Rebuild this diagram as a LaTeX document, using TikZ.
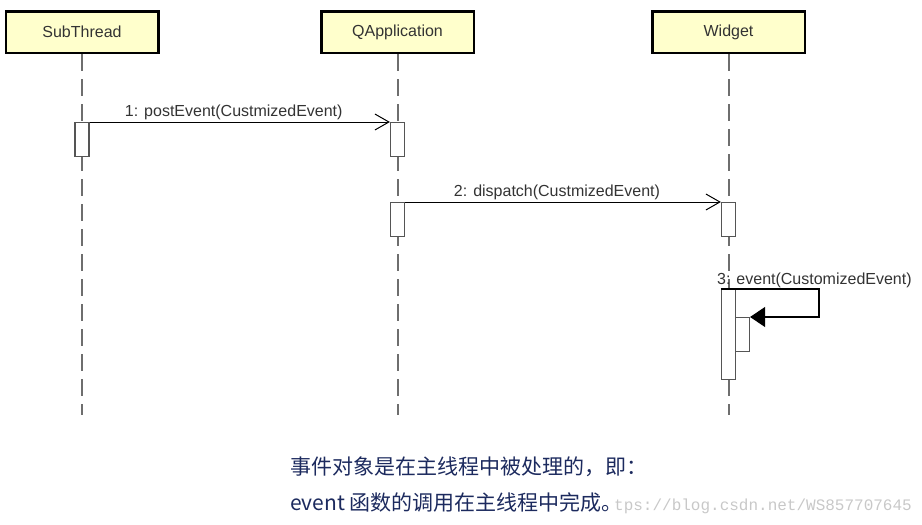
\documentclass[tikz,border=0pt]{standalone}
\usepackage{fontspec}
\setmainfont{Liberation Sans}
\newfontfamily\cjk{Noto Sans CJK SC}
\newfontfamily\wmfont{Liberation Mono}
\usetikzlibrary{arrows.meta}
\definecolor{headfill}{HTML}{FFFFCC}
\definecolor{lifegray}{HTML}{6E6E6E}
\definecolor{actgray}{HTML}{555555}
\definecolor{notecol}{HTML}{1C2A5E}
\definecolor{wmgray}{HTML}{C8C8C8}

\begin{document}
\begin{tikzpicture}[x=1pt,y=-1pt,
	head/.style={draw,line width=2.5pt,fill=headfill,minimum width=152.5pt,minimum height=41.5pt,inner sep=0pt,font=\fontsize{16}{18}\selectfont,text=black!80},
	lifeline/.style={draw=lifegray,line width=2pt,dash pattern=on 17pt off 8pt},
	act/.style={draw=actgray,fill=white,line width=1.2pt,minimum width=14pt,inner sep=0pt,anchor=north},
	msg/.style={line width=1pt,-{Straight Barb[length=14pt,width=16pt]}},
	selfmsg/.style={line width=1.3pt,-{Triangle[length=15pt,width=20pt]}},
	msglabel/.style={font=\fontsize{16}{18}\selectfont,text=black!80,inner sep=2pt},
	note/.style={font=\cjk\fontsize{21}{24}\selectfont,text=notecol,anchor=base west,inner sep=0pt}]
  \useasboundingbox (0,0) rectangle (922,525);
  %% Heads of the lifelines
  \node[head] (sub) at (82,32) {SubThread};
  \node[head] (qapp) at (397.5,32) {QApplication};
  \node[head] (widget) at (728.5,32) {Widget};
  \foreach \name/\x in {sub/82,qapp/397.5,widget/728.5}{% dashed lifelines
    \coordinate (\name-end) at (\x,415);
    \draw[lifeline] (\name.south) -- (\name-end);
  }
  %% Activation boxes
  \node[act,minimum height=34pt] (sub-act) at (82,122) {};
  \node[act,minimum height=34pt] (qapp-act1) at (397.5,122) {};
  \node[act,minimum height=34pt] (qapp-act2) at (397.5,202) {};
  \node[act,minimum height=34pt] (wid-act1) at (728.5,202) {};
  \node[act,minimum height=90pt] (wid-act2) at (728.5,289) {};
  \node[act,minimum height=34pt] (wid-act3) at (742.5,317) {};
  %% Messages
  \draw[msg] (sub-act.north east) -- (qapp-act1.north west) node[msglabel,midway,above,xshift=-6pt]{1: postEvent(CustmizedEvent)};
  \draw[msg] (qapp-act2.north east) -- (wid-act1.north west) node[msglabel,midway,above,xshift=-6pt]{2: dispatch(CustmizedEvent)};
  \coordinate (self-turn) at (819,289);
  \draw[selfmsg] (wid-act2.north west) -- (self-turn) |- (wid-act3.north east);
  \node[msglabel,anchor=base west,inner sep=0pt] (self-lbl) at (717,284) {3: event(CustomizedEvent)};
  %% Note under the diagram
  \node[note] (note1) at (290,474) {事件对象是在主线程中被处理的，即：};
  \node[note] (note2) at (290,510) {event 函数的调用在主线程中完成。};
  \node[font=\wmfont\fontsize{16}{18}\selectfont,text=wmgray,anchor=base east,inner sep=0pt] (wm) at (912,510) {tps://blog.csdn.net/WS857707645};
\end{tikzpicture}
\end{document}
